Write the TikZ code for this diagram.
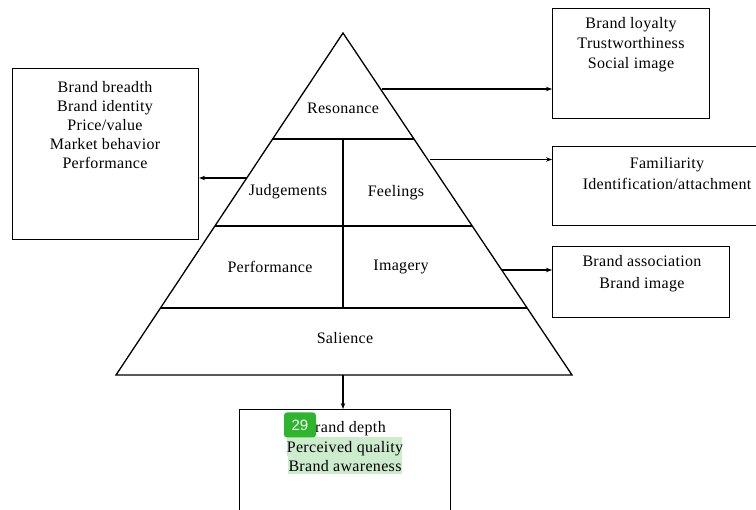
\documentclass[tikz,border=0pt]{standalone}
\usepackage{fontspec}
\setmainfont{Liberation Serif}[LetterSpace=2]
\newfontfamily\badgefont{Liberation Sans}
\usetikzlibrary{arrows.meta}
\definecolor{hl}{HTML}{CDEBCD}
\definecolor{badgegreen}{HTML}{2EB52E}
\tikzset{
  box/.style={draw, line width=1.1pt, inner sep=0pt, anchor=north west},
  lbl/.style={font=\fontsize{16}{20}\selectfont, align=center, inner sep=0pt},
  conn/.style={line width=1.1pt, -{Stealth[length=6pt,width=4.5pt]}},
  pyr/.style={line width=1.3pt, line join=miter},
}
\begin{document}
\begin{tikzpicture}[x=1pt,y=-1pt]
\useasboundingbox (0,0) rectangle (756,510);
\clip (0,0) rectangle (756,510);
% pyramid
\coordinate (apex) at (343,33);
\coordinate (bl) at (116,375);
\coordinate (br) at (572,375);
\coordinate (l1) at (273,139); \coordinate (r1) at (414,139);
\coordinate (l2) at (215,226); \coordinate (r2) at (472,226);
\coordinate (l3) at (160,308); \coordinate (r3) at (527,308);
\coordinate (m1) at (343,139); \coordinate (m3) at (343,308);
\draw[pyr] (apex) -- (bl) -- (br) -- cycle;
\draw[pyr] (l1) -- (r1);
\draw[pyr] (l2) -- (r2);
\draw[pyr] (l3) -- (r3);
\draw[pyr] (m1) -- (m3);
\node[lbl] (res) at (343,108) {Resonance};
\node[lbl] (jud) at (288,192) {Judgements};
\node[lbl] (fee) at (396,193) {Feelings};
\node[lbl] (perf) at (270,267) {Performance};
\node[lbl] (ima) at (401,267) {Imagery};
\node[lbl] (sal) at (345,338) {Salience};
% boxes
\node[box, minimum width=157pt, minimum height=110pt] (b1) at (552,8) {};
\node[box, minimum width=210pt, minimum height=79pt] (b2) at (552,146) {};
\node[box, minimum width=177pt, minimum height=71pt] (b3) at (552,246) {};
\node[box, minimum width=186pt, minimum height=171pt] (bl0) at (12,68) {};
\node[box, minimum width=211pt, minimum height=110pt] (bb) at (239,409) {};
% box texts
\node[lbl] (t1) at (631,45) {Brand loyalty\\Trustworthiness\\Social image};
\node[lbl, font=\fontsize{16}{21}\selectfont] (t2) at (667,173.5) {Familiarity\\Identification/attachment};
\node[lbl, font=\fontsize{16}{22}\selectfont] (t3) at (642,274) {Brand association\\Brand image};
\node[lbl, font=\fontsize{16}{19}\selectfont] (tl) at (105,125) {Brand breadth\\Brand identity\\Price/value\\Market behavior\\Performance};
% highlights
\fill[hl] (287,437) rectangle (402,456);
\fill[hl] (288,456) rectangle (402,474);
\node[lbl, font=\fontsize{16}{19.5}\selectfont] (tb) at (345,447) {Brand depth\\Perceived quality\\Brand awareness};
\node[fill=badgegreen, rounded corners=3pt, minimum width=32pt, minimum height=25pt, inner sep=0pt, text=white, font=\badgefont\fontsize{15}{15}\selectfont] (badge) at (300,425) {29};
% connectors
\coordinate (s1) at (382,89);
\coordinate (s2) at (430,159.5);
\coordinate (s3) at (502,270);
\coordinate (s4) at (247,178);
\coordinate (s5) at (343,375);
\draw[conn] (s1) -- (s1 -| b1.west);
\draw[conn] (s2) -- (s2 -| b2.west);
\draw[conn] (s3) -- (s3 -| b3.west);
\draw[conn] (s4) -- (s4 -| bl0.east);
\draw[conn] (s5) -- (s5 |- bb.north);
\end{tikzpicture}
\end{document}
